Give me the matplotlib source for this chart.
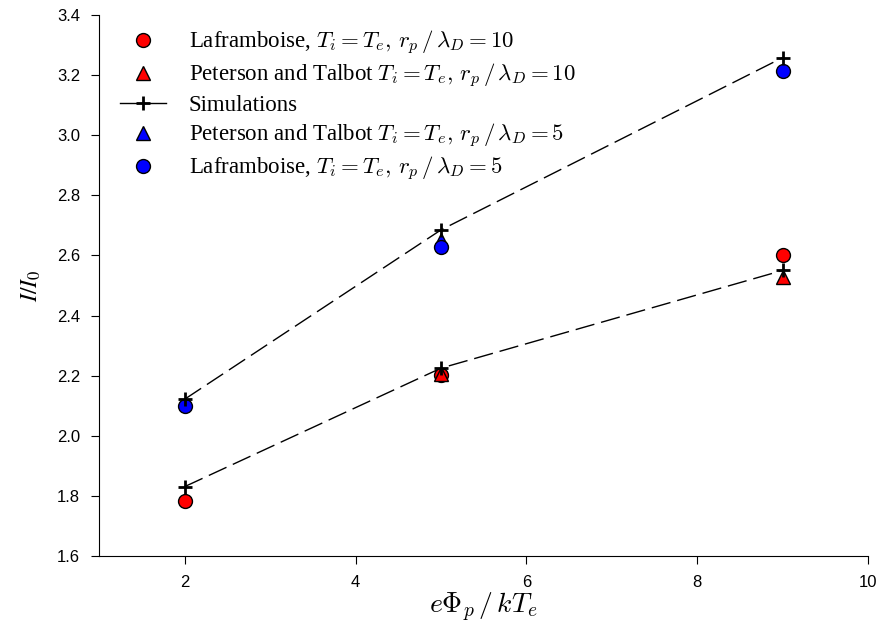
import numpy as np
import matplotlib.pyplot as plt

plt.rcParams['mathtext.fontset'] = 'cm'
plt.rcParams['font.family'] = 'Liberation Sans'

# data
x_lf10 = [2, 5, 9]
y_lf10 = [1.783, 2.202, 2.60]
x_pt10 = [5, 9]
y_pt10 = [2.205, 2.527]
x_sim = [2, 5, 9]
y_sim10 = [1.831, 2.225, 2.55]
y_sim5 = [2.122, 2.685, 3.258]
x_pt5 = [5]
y_pt5 = [2.65]
x_lf5 = [2, 5, 9]
y_lf5 = [2.10, 2.628, 3.214]

fig = plt.figure(figsize=(8.86, 6.42), dpi=100)
ax = fig.add_axes([0.1123, 0.134, 0.8674, 0.8427])

ax.plot(x_sim, y_sim10, color='black', lw=1, dashes=(14, 5), zorder=2)
ax.plot(x_sim, y_sim5, color='black', lw=1, dashes=(14, 5), zorder=2)

ax.plot(x_lf10, y_lf10, 'o', ms=10, mfc='red', mec='black', mew=1, ls='none', zorder=3,
        label=r'Laframboise, $T_i = T_e,\, r_p\,/\,\lambda_D = 10$')
ax.plot(x_pt10, y_pt10, '^', ms=10, mfc='red', mec='black', mew=1, ls='none', zorder=3,
        label=r'Peterson and Talbot $T_i = T_e,\, r_p\,/\,\lambda_D = 10$')
ax.plot(x_sim, y_sim10, marker='+', ms=10, mew=2, color='black', ls='none', zorder=4)
ax.plot(x_sim, y_sim5, marker='+', ms=10, mew=2, color='black', ls='none', zorder=4)
ax.plot([], [], marker='+', ms=10, mew=2, color='black', ls='-', lw=1, label='Simulations')
ax.plot(x_pt5, y_pt5, '^', ms=10, mfc='blue', mec='black', mew=1, ls='none', zorder=3,
        label=r'Peterson and Talbot $T_i = T_e,\, r_p\,/\,\lambda_D = 5$')
ax.plot(x_lf5, y_lf5, 'o', ms=10, mfc='blue', mec='black', mew=1, ls='none', zorder=3,
        label=r'Laframboise, $T_i = T_e,\, r_p\,/\,\lambda_D = 5$')

ax.set_xlim(1, 10)
ax.set_ylim(1.6, 3.4)
ax.set_xticks([2, 4, 6, 8, 10])
ax.set_yticks(np.arange(1.6, 3.41, 0.2))
ax.set_yticklabels(['%.1f' % v for v in np.arange(1.6, 3.41, 0.2)])
ax.tick_params(direction='out', length=6, labelsize=12, pad=8)
for s in ['top', 'right']:
    ax.spines[s].set_visible(False)

ax.set_xlabel(r'$e\Phi_p\,/\,kT_e$', fontsize=20, labelpad=0)
ax.set_ylabel(r'$I/I_0$', fontsize=17, labelpad=10, math_fontfamily='stix')

leg = ax.legend(loc='upper left', bbox_to_anchor=(0.0, 1.012), frameon=False,
                prop={'family': 'Liberation Serif', 'size': 16.5},
                handlelength=2.0, handletextpad=1.0, labelspacing=0.22)

fig.savefig('out.png', dpi=100)
